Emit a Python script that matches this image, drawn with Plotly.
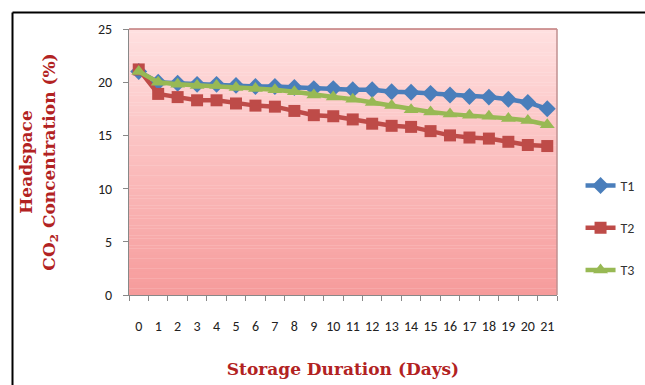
import plotly.graph_objects as go

days = [str(d) for d in range(22)]
t1 = [21.0, 20.0, 19.9, 19.8, 19.8, 19.7, 19.6, 19.6, 19.5, 19.4, 19.4, 19.3,
      19.3, 19.1, 19.05, 18.95, 18.8, 18.65, 18.6, 18.4, 18.1, 17.5]
t2 = [21.2, 18.9, 18.6, 18.3, 18.3, 18.0, 17.8, 17.7, 17.3, 16.9, 16.8, 16.5,
      16.1, 15.9, 15.8, 15.4, 15.0, 14.8, 14.7, 14.4, 14.1, 14.0]
t3 = [21.0, 20.0, 19.8, 19.7, 19.7, 19.5, 19.4, 19.3, 19.1, 18.8, 18.6, 18.4,
      18.1, 17.8, 17.4, 17.2, 17.0, 16.9, 16.8, 16.6, 16.4, 16.0]
y_ticks = [0, 5, 10, 15, 20, 25]

fig = go.Figure()
series = [("T1", t1, "#4A7EBB", "diamond", 13),
          ("T2", t2, "#BE4B48", "square", 12),
          ("T3", t3, "#98B954", "triangle-up", 13)]
for name, vals, col, sym, sz in series:
    fig.add_trace(go.Scatter(
        x=days, y=vals, name=name, mode="lines+markers",
        line=dict(color=col, width=4.5),
        marker=dict(symbol=sym, size=sz, color=col),
        legendgroup=name,
    ))

# gradient background bands
n = 80
top = (255, 224, 224)
bot = (246, 155, 155)
shapes = []
for i in range(n):
    f = (i + 0.5) / n
    r = round(top[0] + (bot[0] - top[0]) * f)
    g = round(top[1] + (bot[1] - top[1]) * f)
    b = round(top[2] + (bot[2] - top[2]) * f)
    shapes.append(dict(type="rect", xref="x domain", yref="y domain",
                       x0=0, x1=1, y0=1 - (i + 1) / n - 0.001, y1=1 - i / n,
                       fillcolor=f"rgb({r},{g},{b})", line=dict(width=0),
                       layer="below"))
# plot-area border (top & right)
shapes.append(dict(type="line", xref="x domain", yref="y domain", x0=0, x1=1, y0=1, y1=1,
                   line=dict(color="#C07A7A", width=1.5)))
shapes.append(dict(type="line", xref="x domain", yref="y domain", x0=1, x1=1, y0=0, y1=1,
                   line=dict(color="#C09090", width=1.5)))
# outer black frame (top and left edges only visible)
fx0 = (12.5 - 129) / 428
fy1 = (295 - 12.5) / 266
shapes.append(dict(type="line", xref="paper", yref="paper",
                   x0=fx0, x1=(660 - 129) / 428, y0=fy1, y1=fy1,
                   line=dict(color="black", width=2)))
shapes.append(dict(type="line", xref="paper", yref="paper",
                   x0=fx0, x1=fx0, y0=(295 - 400) / 266, y1=fy1,
                   line=dict(color="black", width=2)))

tickfont = dict(family="Carlito, Calibri, Liberation Sans, sans-serif", size=14, color="#222")
titlefont = dict(family="DejaVu Serif, serif", size=17, color="#B22222")

fig.update_layout(
    width=645, height=385,
    margin=dict(l=129, r=88, t=29, b=90, autoexpand=False),
    paper_bgcolor="white", plot_bgcolor="rgba(0,0,0,0)",
    shapes=shapes,
    showlegend=True,
    legend=dict(x=1.055, y=0.252, xanchor="left", yanchor="middle",
                font=dict(family="Carlito, Calibri, Liberation Sans, sans-serif", size=14, color="#333"),
                tracegroupgap=21),
    xaxis=dict(type="category", tickson="boundaries", ticks="outside", ticklen=5,
               tickangle=0, tickmode="array", tickvals=days, ticktext=days,
               range=[-0.5, 21.5], automargin=False, ticklabelstandoff=18,
               tickcolor="#888", showline=True, linecolor="#888", showgrid=False,
               tickfont=tickfont,
               title=dict(text="<b>Storage Duration (Days)</b>", standoff=29, font=titlefont)),
    yaxis=dict(range=[0, 25], tickvals=y_ticks, ticks="outside", ticklen=5, automargin=False,
               ticklabelstandoff=8,
               tickcolor="#888", showline=True, linecolor="#888", showgrid=False,
               tickfont=tickfont,
               title=dict(text="<b>Headspace</b><br><b>CO<sub>2</sub> Concentration (%)</b>", standoff=38,
                          font=titlefont)),
)

fig.write_html("out.html")
